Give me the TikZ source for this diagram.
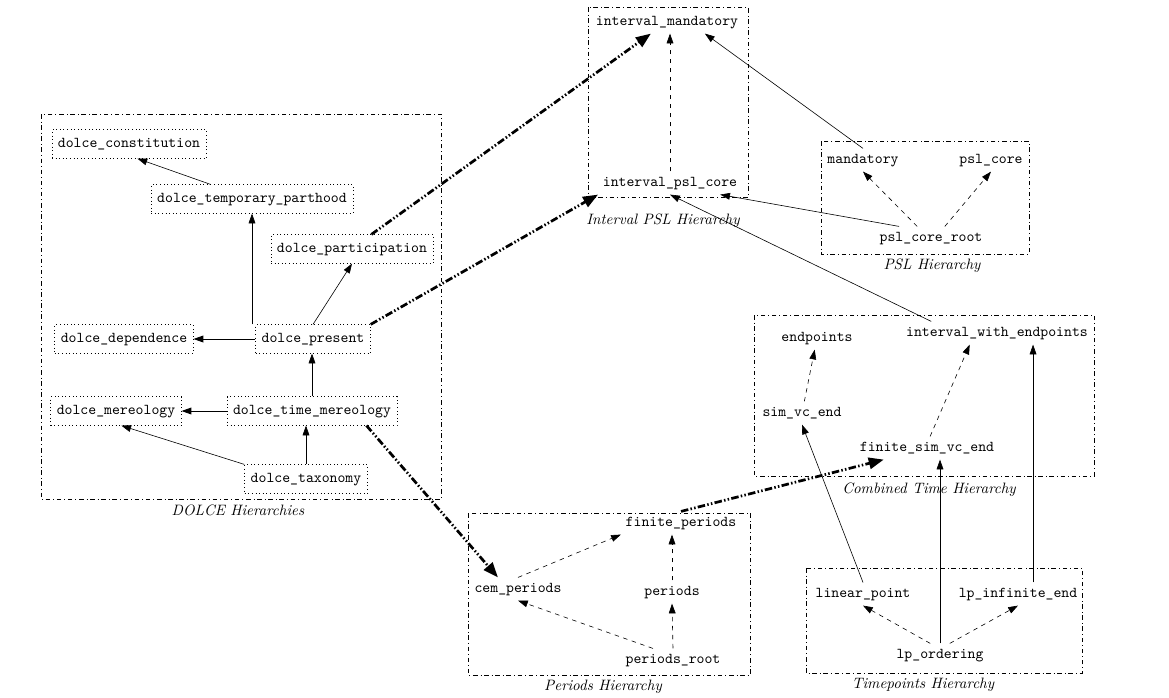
\documentclass[tikz,border=0pt]{standalone}
\usepackage{tikz}
\usetikzlibrary{arrows.meta,calc}

\begin{document}
\begin{tikzpicture}[x=0.02336cm,y=-0.02336cm,
   dbox/.style={draw,dotted,font=\ttfamily,inner xsep=4pt,inner ysep=5pt,text height=7pt,text depth=2pt},
   tt/.style={font=\ttfamily,inner sep=3pt,text height=7pt,text depth=2pt},
   grp/.style={dash dot,thin},
   hname/.style={font=\itshape},
   sub/.style={-{Triangle[length=6.5pt,width=4.5pt]}},
   dsub/.style={sub,dashed},
   link/.style={-{Triangle[length=10pt,width=7.5pt]},line width=1.8pt,
        dash pattern=on 5pt off 1.5pt on 1pt off 1.5pt on 1pt off 1.5pt}]
  \useasboundingbox (0,0) rectangle (1169,697);
  % ---------- DOLCE hierarchies ----------
  \draw[grp] (41,114) rectangle (441,499);
  \node[hname] (dolcename) at (238,510) {DOLCE Hierarchies};
  \node[dbox] (constitution) at (129,144) {dolce\_constitution};
  \node[dbox] (parthood) at (252,199) {dolce\_temporary\_parthood};
  \node[dbox] (participation) at (352,249) {dolce\_participation};
  \node[dbox] (dependence) at (124,339) {dolce\_dependence};
  \node[dbox] (present) at (313,339) {dolce\_present};
  \node[dbox] (mereology) at (116,411) {dolce\_mereology};
  \node[dbox] (tmereology) at (312,411) {dolce\_time\_mereology};
  \node[dbox] (taxonomy) at (306,479) {dolce\_taxonomy};
  \draw[sub] (parthood) -- (constitution.-60);
  \draw[sub] (present.north -| parthood.south) -- (parthood.south);
  \draw[sub] (present.north) -- (participation.south);
  \draw[sub,semithick] (present.west) -- (dependence.east);
  \draw[sub] (tmereology.north) -- (tmereology.north |- present.south);
  \draw[sub,semithick] (tmereology.west) -- (mereology.east);
  \draw[sub] (taxonomy.north) -- (taxonomy.north |- tmereology.south);
  \draw[sub] (taxonomy.north west) -- (mereology.-70);
  % ---------- interval PSL ----------
  \draw[grp] (588,7) rectangle (748,197);
  \node[hname] (ipslname) at (663,221) {Interval PSL Hierarchy};
  \node[tt] (imand) at (667,22) {interval\_mandatory};
  \node[tt] (ipslcore) at (670,183) {interval\_psl\_core};
  \draw[dsub] (ipslcore.north) -- (ipslcore.north |- imand.south);
  % ---------- PSL ----------
  \draw[grp] (821,141) rectangle (1029,254);
  \node[hname] (pslname) at (932,266) {PSL Hierarchy};
  \node[tt] (mandatory) at (863,160) {mandatory};
  \node[tt] (pslcore) at (991,160) {psl\_core};
  \node[tt] (pcroot) at (931,238) {psl\_core\_root};
  \draw[dsub] (pcroot.140) -- (mandatory.south);
  \draw[dsub] (pcroot.40) -- (pslcore.south);
  \draw[sub] (mandatory.north) -- (imand.-17);
  \draw[sub] (pcroot.160) -- (ipslcore.-13);
  % ---------- combined time ----------
  \draw[grp] (754,315) rectangle (1094,476);
  \node[hname] (combname) at (929,490) {Combined Time Hierarchy};
  \node[tt] (endpoints) at (817,338) {endpoints};
  \node[tt] (iwe) at (997,333) {interval\_with\_endpoints};
  \node[tt] (simvc) at (802,413) {sim\_vc\_end};
  \node[tt] (fsim) at (927,448) {finite\_sim\_vc\_end};
  \draw[dsub] (simvc) -- (endpoints);
  \draw[dsub] (fsim.75) -- (iwe.-157);
  \draw[sub] (iwe.170) -- (ipslcore.south);
  % ---------- periods ----------
  \draw[grp] (468,513) rectangle (750,675);
  \node[hname] (pername) at (603,687) {Periods Hierarchy};
  \node[tt] (finper) at (681,523) {finite\_periods};
  \node[tt] (cemper) at (518,589) {cem\_periods};
  \node[tt] (periods) at (672,592) {periods};
  \node[tt] (proot) at (673,660) {periods\_root};
  \draw[dsub] (cemper.north) -- (finper.south west);
  \draw[dsub] (periods.north) -- (periods.north |- finper.south);
  \draw[dsub] (proot.north) -- (periods.south);
  \draw[dsub] (proot.150) -- (cemper.south);
  % ---------- timepoints ----------
  \draw[grp] (806,568) rectangle (1082,673);
  \node[hname] (tpname) at (923,685) {Timepoints Hierarchy};
  \node[tt] (linpt) at (863,594) {linear\_point};
  \node[tt] (lpinf) at (1018,594) {lp\_infinite\_end};
  \node[tt] (lpord) at (940,655) {lp\_ordering};
  \draw[dsub] (lpord.130) -- (linpt.south);
  \draw[dsub] (lpord.50) -- (lpinf.south);
  \draw[sub] (lpord.north) -- (lpord.north |- fsim.south);
  \draw[sub] ([xshift=10pt]lpinf.north) -- ([xshift=10pt]lpinf.north |- iwe.south);
  \draw[sub] (linpt.north) -- (simvc.south);
  % ---------- links between hierarchies ----------
  \draw[link] (participation.37) -- (imand);
  \draw[link] (present.north east) -- (ipslcore.south west);
  \draw[link] (tmereology.-15) -- (cemper.150);
  \draw[link] (finper.north) -- (fsim.-165);
\end{tikzpicture}
\end{document}
